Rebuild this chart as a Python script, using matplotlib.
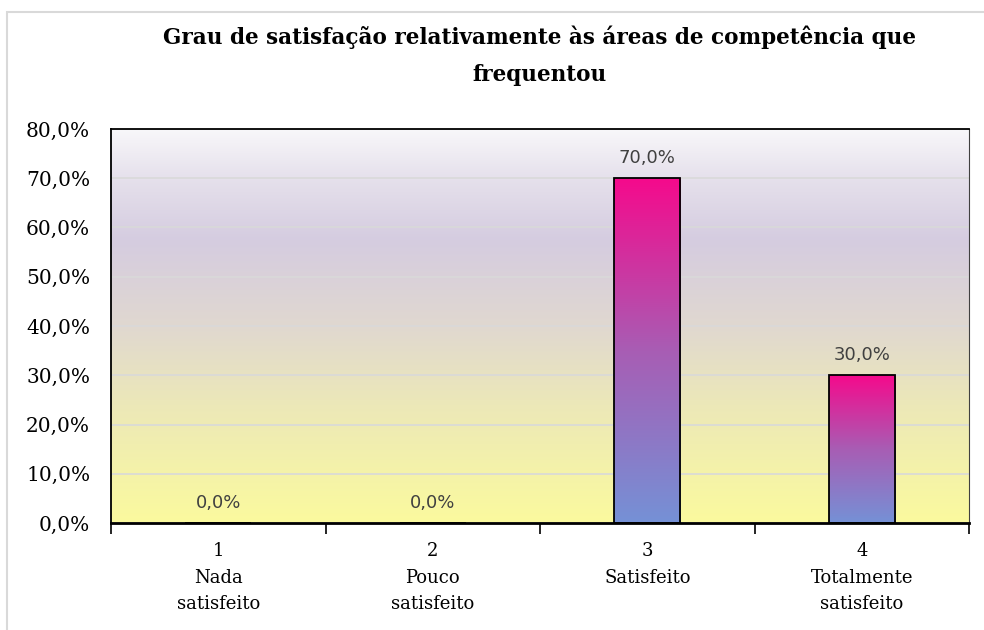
import numpy as np
import matplotlib.pyplot as plt
from matplotlib.colors import LinearSegmentedColormap
from matplotlib.patches import Rectangle

numeros = ['1', '2', '3', '4']
categorias = ['Nada\nsatisfeito', 'Pouco\nsatisfeito', 'Satisfeito', 'Totalmente\nsatisfeito']
valores = [0.0, 0.0, 70.0, 30.0]
titulo = 'Grau de satisfação relativamente às áreas de competência que\nfrequentou'

fig = plt.figure(figsize=(9.84, 6.3), dpi=100)
ax = fig.add_axes([111/984, 1 - 523/630, (969-111)/984, (523-129)/630])

# fundo em degradê (de baixo para cima)
fundo = LinearSegmentedColormap.from_list('fundo', [
    (0.0, '#fbfa9e'), (0.3, '#ece8b8'), (0.5, '#e0d8d0'),
    (0.72, '#d5cce0'), (0.88, '#e6e1ec'), (1.0, '#f8f7fa')])
grad = np.linspace(0, 1, 256).reshape(-1, 1)
ax.imshow(grad, cmap=fundo, origin='lower', aspect='auto',
          extent=[-0.5, 3.5, 0, 80], zorder=0)

x = np.arange(len(valores))
barras = ax.bar(x, valores, width=0.31, color='none', edgecolor='black',
                linewidth=1.3, zorder=3)
cmap_barra = LinearSegmentedColormap.from_list('barra', ['#7591d6', '#a85db4', '#f50a8c'])
for b, v in zip(barras, valores):
    if v <= 0:
        continue
    im = ax.imshow(grad, cmap=cmap_barra, origin='lower', aspect='auto',
                   extent=[b.get_x(), b.get_x() + b.get_width(), 0, v], zorder=2)
    im.set_clip_path(b)

for xi, v in zip(x, valores):
    ax.text(xi, v + 2.2, f'{v:.1f}%'.replace('.', ','), ha='center', va='bottom',
            fontsize=13, color='#404040', family='DejaVu Sans')

ax.set_xlim(-0.5, 3.5)
ax.set_ylim(0, 80)
ax.set_yticks(np.arange(0, 81, 10))
ax.set_yticklabels([f'{t:.1f}%'.replace('.', ',') for t in np.arange(0, 81, 10)],
                   family='DejaVu Serif', fontsize=14.5)
ax.yaxis.grid(True, color='#d9d9d9', linewidth=1.2, zorder=1)
ax.set_axisbelow(True)
ax.tick_params(axis='y', length=0, pad=15)

ax.set_xticks(np.arange(-0.5, 3.6, 1))
ax.set_xticklabels([])
ax.tick_params(axis='x', length=8, width=1.2, direction='out')
ax.set_xticks(x, minor=True)
ax.set_xticklabels([n + '\n' + c for n, c in zip(numeros, categorias)], minor=True,
                   family='DejaVu Serif', fontsize=13, linespacing=1.58, va='top')
ax.tick_params(axis='x', which='minor', length=0, pad=14)

for s in ['left', 'top']:
    ax.spines[s].set_linewidth(1.3)
ax.spines['right'].set_color('#404040')
ax.spines['bottom'].set_linewidth(2)

fig.text(0.548, 1 - 56/630, titulo, ha='center', va='center', fontsize=15.5,
         fontweight='bold', family='DejaVu Serif', linespacing=1.9)

fig.patches.append(Rectangle((7/984, -0.05), 1.1, 1 - 12/630 + 0.05,
                             transform=fig.transFigure, fill=False,
                             edgecolor='#d9d9d9', linewidth=1.5))

fig.savefig('out.png', dpi=100)
